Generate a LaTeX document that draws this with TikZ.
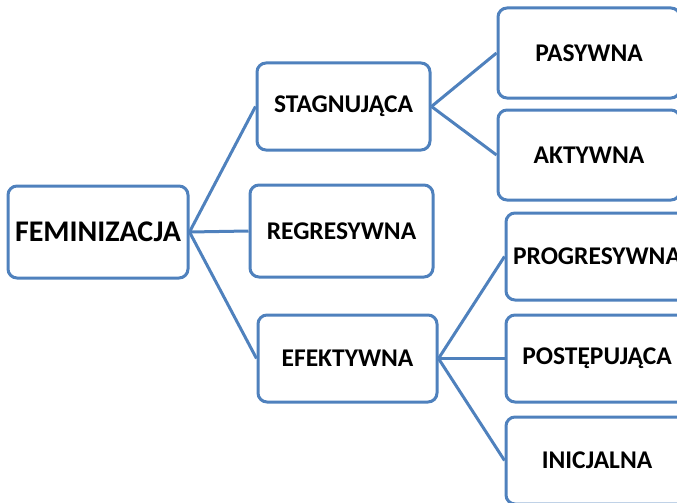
\documentclass[tikz,border=0pt]{standalone}
\usepackage{fontspec}
\setmainfont{Carlito}
\definecolor{boxblue}{HTML}{4F81BD}
\begin{document}
\begin{tikzpicture}[x=1pt, y=-1pt,
    box/.style={draw=boxblue, line width=3pt, rounded corners=9pt, fill=white,
        inner sep=0pt, font=\fontsize{25.5}{29}\selectfont\bfseries},
    link/.style={draw=boxblue, line width=3pt}]
                \clip (0,0) rectangle (677,503);
                % nodes
                \node[box, minimum width=180pt, minimum height=92pt, font=\fontsize{30}{34}\selectfont\bfseries] (fem) at (98,232) {FEMINIZACJA};
                \node[box, minimum width=173pt, minimum height=87pt] (stag) at (343.5,106.5) {STAGNUJĄCA};
                \node[box, minimum width=183pt, minimum height=92pt] (regr) at (341.5,231) {REGRESYWNA};
                \node[box, minimum width=179pt, minimum height=87pt] (efek) at (347.5,358.5) {EFEKTYWNA};
                \node[box, minimum width=182pt, minimum height=90pt] (pas) at (589,53) {PASYWNA};
                \node[box, minimum width=182pt, minimum height=90pt] (akt) at (589,155) {AKTYWNA};
                \node[box, minimum width=182pt, minimum height=87pt] (prog) at (597,256.5) {PROGRESYWNA};
                \node[box, minimum width=182pt, minimum height=87pt] (post) at (597,358.5) {POSTĘPUJĄCA};
                \node[box, minimum width=182pt, minimum height=87pt] (inic) at (597,460.5) {INICJALNA};
                % edges
                \draw[link] (fem.east) -- (stag.west);
                \draw[link] (fem.east) -- (regr.west);
                \draw[link] (fem.east) -- (efek.west);
                \draw[link] (stag.east) -- (pas.west);
                \draw[link] (stag.east) -- (akt.west);
                \draw[link] (efek.east) -- (prog.west);
                \draw[link] (efek.east) -- (post.west);
                \draw[link] (efek.east) -- (inic.west);
            \end{tikzpicture}
\end{document}
